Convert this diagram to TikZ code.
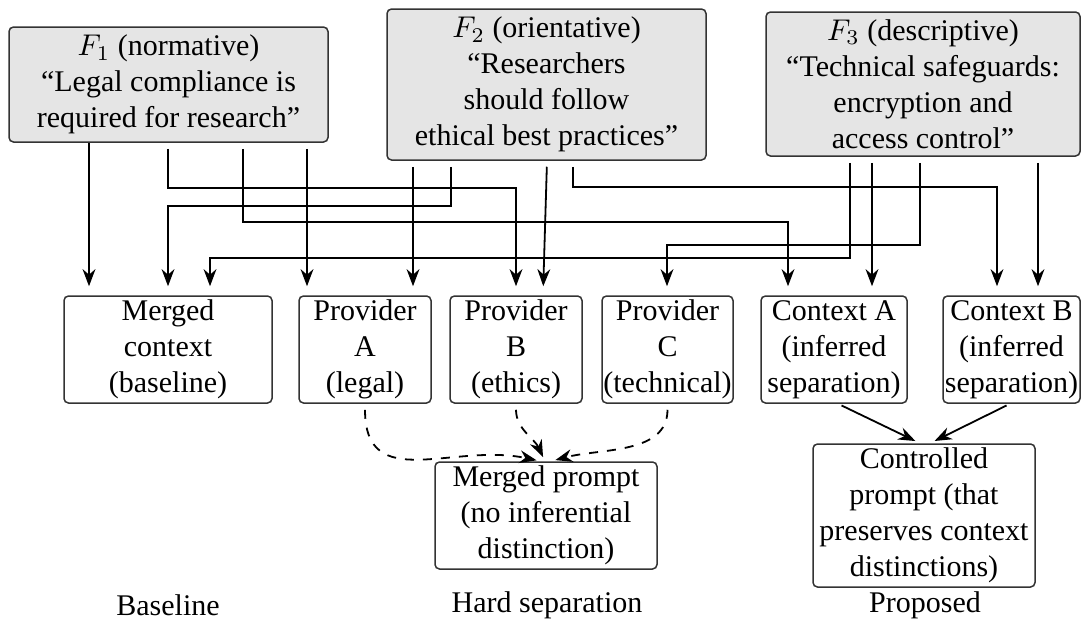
\documentclass[tikz,border=0pt]{standalone}
\usepackage{fontspec}
\setmainfont{Liberation Serif}
\usetikzlibrary{arrows.meta}
\begin{document}
\begin{tikzpicture}[x=0.33333pt,y=-0.33333pt,
  box/.style={draw=black!80, line width=0.5pt, rounded corners=1.5pt,
    align=center, inner sep=0pt, minimum height=35.67pt,
    font=\fontsize{10}{12}\selectfont},
  claim/.style={box, fill=gray!20},
  conn/.style={semithick, -{Stealth}, shorten >=3pt},
  flow/.style={semithick, dashed, -{Stealth}, shorten <=2pt, shorten >=1.5pt},
  caption/.style={anchor=base, inner sep=0pt, font=\fontsize{10}{12}\selectfont}]
\useasboundingbox (0,0) rectangle (1081,619);

% framings
\node[claim, minimum width=106.33pt, minimum height=38.33pt] (F1) at (168.5,84.5)
  {$F_1$ (normative)\\``Legal compliance is\\required for research''};
\node[claim, minimum width=106.33pt, minimum height=50.33pt] (F2) at (546.5,84.5)
  {$F_2$ (orientative)\\``Researchers\\should follow\\ethical best practices''};
\node[claim, minimum width=104.67pt, minimum height=48pt] (F3) at (923,84)
  {$F_3$ (descriptive)\\``Technical safeguards:\\encryption and\\access control''};

% contexts
\node[box, minimum width=69.33pt] (MC) at (168,349.5) {Merged\\context\\(baseline)};
\node[box, minimum width=44pt] (PA) at (365,349.5) {Provider\\A\\(legal)};
\node[box, minimum width=44pt] (PB) at (516,349.5) {Provider\\B\\(ethics)};
\node[box, minimum width=43.67pt] (PC) at (667.5,349.5) {Provider\\C\\(technical)};
\node[box, minimum width=48.67pt] (CA) at (834,349.5) {Context A\\(inferred\\separation)};
\node[box, minimum width=45.67pt] (CB) at (1011.5,349.5) {Context B\\(inferred\\separation)};

% prompts
\node[box, minimum width=74pt] (MP) at (546,515.5)
  {Merged prompt\\(no inferential\\distinction)};
\node[box, minimum width=74pt, minimum height=47.67pt] (CP) at (924,515.5)
  {Controlled\\prompt (that\\preserves context\\distinctions)};

% captions
\node[caption] (capA) at (168,615) {Baseline};
\node[caption] (capB) at (547,612) {Hard separation};
\node[caption] (capC) at (925,612) {Proposed};

% F1 routes
\draw[conn] (89,0 |- F1.south) -- (89,0 |- MC.north);
\draw[conn, shorten <=2pt] (168,0 |- F1.south) -- (168,188) -| (516,0 |- PB.north);
\draw[conn, shorten <=2pt] (243,0 |- F1.south) -- (243,222) -| (788,0 |- CA.north);
\draw[conn, shorten <=2pt] (307,0 |- F1.south) -- (307,0 |- PA.north);

% F2 routes
\draw[conn, shorten <=2pt] (413,0 |- F2.south) -- (413,0 |- PA.north);
\draw[conn, shorten <=2pt] (451,0 |- F2.south) -- (451,206) -| (168,0 |- MC.north);
\draw[conn, shorten <=2pt] (547,0 |- F2.south) -- (543,0 |- PB.north);
\draw[conn, shorten <=2pt] (573,0 |- F2.south) -- (573,187) -| (997,0 |- CB.north);

% F3 routes
\draw[conn, shorten <=2pt] (850,0 |- F3.south) -- (850,258) -| (210,0 |- MC.north);
\draw[conn, shorten <=2pt] (872,0 |- F3.south) -- (872,0 |- CA.north);
\draw[conn, shorten <=2pt] (920,0 |- F3.south) -- (920,245) -| (667,0 |- PC.north);
\draw[conn, shorten <=2pt] (1038,0 |- F3.south) -- (1038,0 |- CB.north);

% hard separation merge
\draw[flow] (PA.south) to[out=-90, in=168, looseness=1.25] (541,0 |- MP.north);
\draw[flow] (PB.south) to[out=-90, in=115] (545,0 |- MP.north);
\draw[flow] (PC.south) to[out=-90, in=15] (551,0 |- MP.north);

% proposed merge
\draw[conn, shorten <=1.3pt, shorten >=1.7pt] (838,0 |- CA.south) -- (920,0 |- CP.north);
\draw[conn, shorten <=1.3pt, shorten >=1.7pt] (1010,0 |- CB.south) -- (930,0 |- CP.north);
\end{tikzpicture}
\end{document}
